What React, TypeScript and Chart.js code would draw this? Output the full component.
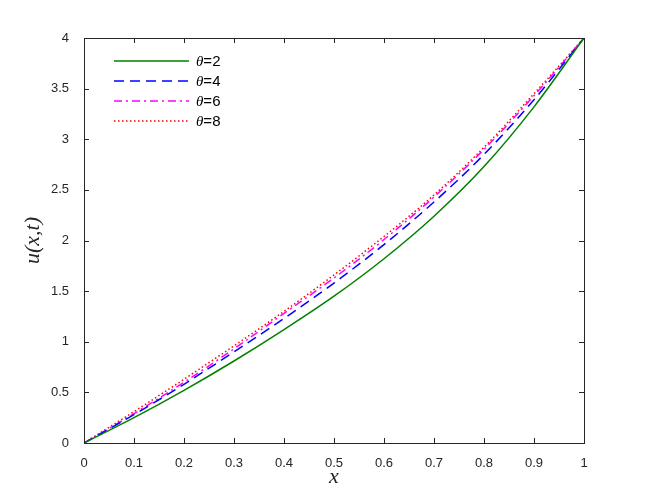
import React, { useEffect, useRef } from "react";
import { Chart, registerables } from "chart.js";

Chart.register(...registerables);

const X_VALUES = [0, 0.1, 0.2, 0.3, 0.4, 0.5, 0.6, 0.7, 0.8, 0.9, 1];
const THETA2 = [0, 0.25, 0.52, 0.81, 1.12, 1.45, 1.82, 2.24, 2.73, 3.32, 4];
const THETA4 = [0, 0.28, 0.58, 0.9, 1.23, 1.58, 1.96, 2.38, 2.85, 3.39, 4];
const THETA6 = [0, 0.29, 0.6, 0.93, 1.28, 1.63, 2.01, 2.43, 2.9, 3.43, 4];
const THETA8 = [0, 0.31, 0.63, 0.96, 1.3, 1.66, 2.04, 2.45, 2.92, 3.45, 4];
const SERIES_LABELS = ["2", "4", "6", "8"];

const AXIS_COLOR = "#262626";

const framePlugin = {
  id: "matlabFrame",
  afterDraw(chart: any) {
    const { ctx, chartArea, scales } = chart;
    const { left, right, top, bottom } = chartArea;
    const xs = scales.x;
    const ys = scales.y;
    ctx.save();
    ctx.strokeStyle = AXIS_COLOR;
    ctx.lineWidth = 1;
    ctx.setLineDash([]);
    ctx.strokeRect(Math.round(left) + 0.5, Math.round(top) + 0.5, Math.round(right - left), Math.round(bottom - top));
    const tl = 5;
    ctx.beginPath();
    xs.ticks.forEach((t: any) => {
      const px = Math.round(xs.getPixelForValue(t.value)) + 0.5;
      ctx.moveTo(px, bottom);
      ctx.lineTo(px, bottom - tl);
      ctx.moveTo(px, top);
      ctx.lineTo(px, top + tl);
    });
    ys.ticks.forEach((t: any) => {
      const py = Math.round(ys.getPixelForValue(t.value)) + 0.5;
      ctx.moveTo(left, py);
      ctx.lineTo(left + tl, py);
      ctx.moveTo(right, py);
      ctx.lineTo(right - tl, py);
    });
    ctx.stroke();

    // legend
    const lx0 = left + 30;
    const lx1 = left + 105;
    const tx = left + 112;
    chart.data.datasets.forEach((ds: any, i: number) => {
      const y = top + 23 + i * 20;
      ctx.save();
      ctx.strokeStyle = ds.borderColor;
      ctx.lineWidth = ds.borderWidth;
      ctx.setLineDash(ds.borderDash || []);
      ctx.beginPath();
      ctx.moveTo(lx0, y);
      ctx.lineTo(lx1, y);
      ctx.stroke();
      ctx.restore();
      ctx.fillStyle = "#000";
      ctx.textBaseline = "middle";
      ctx.textAlign = "left";
      ctx.font = "italic 15px 'Liberation Serif', serif";
      ctx.fillText("\u03b8", tx, y + 1);
      const w = ctx.measureText("\u03b8").width;
      ctx.font = "15px 'Liberation Sans', Arial, sans-serif";
      ctx.fillText("=" + SERIES_LABELS[i], tx + w, y + 1);
    });
    ctx.restore();
  },
};

function toPoints(ys: number[]) {
  return X_VALUES.map((x, i) => ({ x, y: ys[i] }));
}

const fmt = (v: any) => String(Number(Number(v).toFixed(2)));

export default function App() {
  const ref = useRef<HTMLCanvasElement | null>(null);
  useEffect(() => {
    if (!ref.current) return;
    const tickFont = { family: "'Liberation Sans', Arial, sans-serif", size: 13 };
    const chart = new Chart(ref.current, {
      type: "line",
      data: {
        datasets: [
          { label: "θ=2", data: toPoints(THETA2), borderColor: "#008000", borderWidth: 1.5, borderDash: [], pointRadius: 0, cubicInterpolationMode: "monotone", fill: false },
          { label: "θ=4", data: toPoints(THETA4), borderColor: "#0000ff", borderWidth: 1.5, borderDash: [10, 6], pointRadius: 0, cubicInterpolationMode: "monotone", fill: false },
          { label: "θ=6", data: toPoints(THETA6), borderColor: "#ff00ff", borderWidth: 1.5, borderDash: [8, 4, 2, 4], pointRadius: 0, cubicInterpolationMode: "monotone", fill: false },
          { label: "θ=8", data: toPoints(THETA8), borderColor: "#ff0000", borderWidth: 1.5, borderDash: [1.5, 2.5], pointRadius: 0, cubicInterpolationMode: "monotone", fill: false },
        ],
      },
      options: {
        responsive: false,
        animation: false,
        layout: { padding: { top: 38, right: 63, left: 0, bottom: 0 } },
        plugins: { legend: { display: false }, tooltip: { enabled: false } },
        scales: {
          x: {
            type: "linear",
            min: 0,
            max: 1,
            ticks: { stepSize: 0.1, color: AXIS_COLOR, font: tickFont, padding: 5, maxRotation: 0, autoSkip: false, callback: fmt },
            grid: { display: false },
            border: { display: false },
            title: { display: true, text: "x", color: AXIS_COLOR, font: { family: "'Liberation Serif', serif", style: "italic", size: 22 }, padding: { top: 0, bottom: 7 } },
            afterFit: (s: any) => { s.height = 54; },
          },
          y: {
            type: "linear",
            min: 0,
            max: 4,
            ticks: { stepSize: 0.5, color: AXIS_COLOR, font: tickFont, padding: 7, autoSkip: false, callback: fmt },
            grid: { display: false },
            border: { display: false },
            title: { display: true, text: "u(x,t)", color: AXIS_COLOR, font: { family: "'Liberation Serif', serif", style: "italic", size: 22 }, padding: { top: 20, bottom: 0 } },
            afterFit: (s: any) => { s.width = 84; },
          },
        },
      },
      plugins: [framePlugin],
    } as any);
    return () => chart.destroy();
  }, []);
  return (
    <div style={{ position: "fixed", left: 0, top: 0, width: 647, height: 497, background: "#fff" }}>
      <canvas ref={ref} width={647} height={497} style={{ width: 647, height: 497, display: "block" }} />
    </div>
  );
}
